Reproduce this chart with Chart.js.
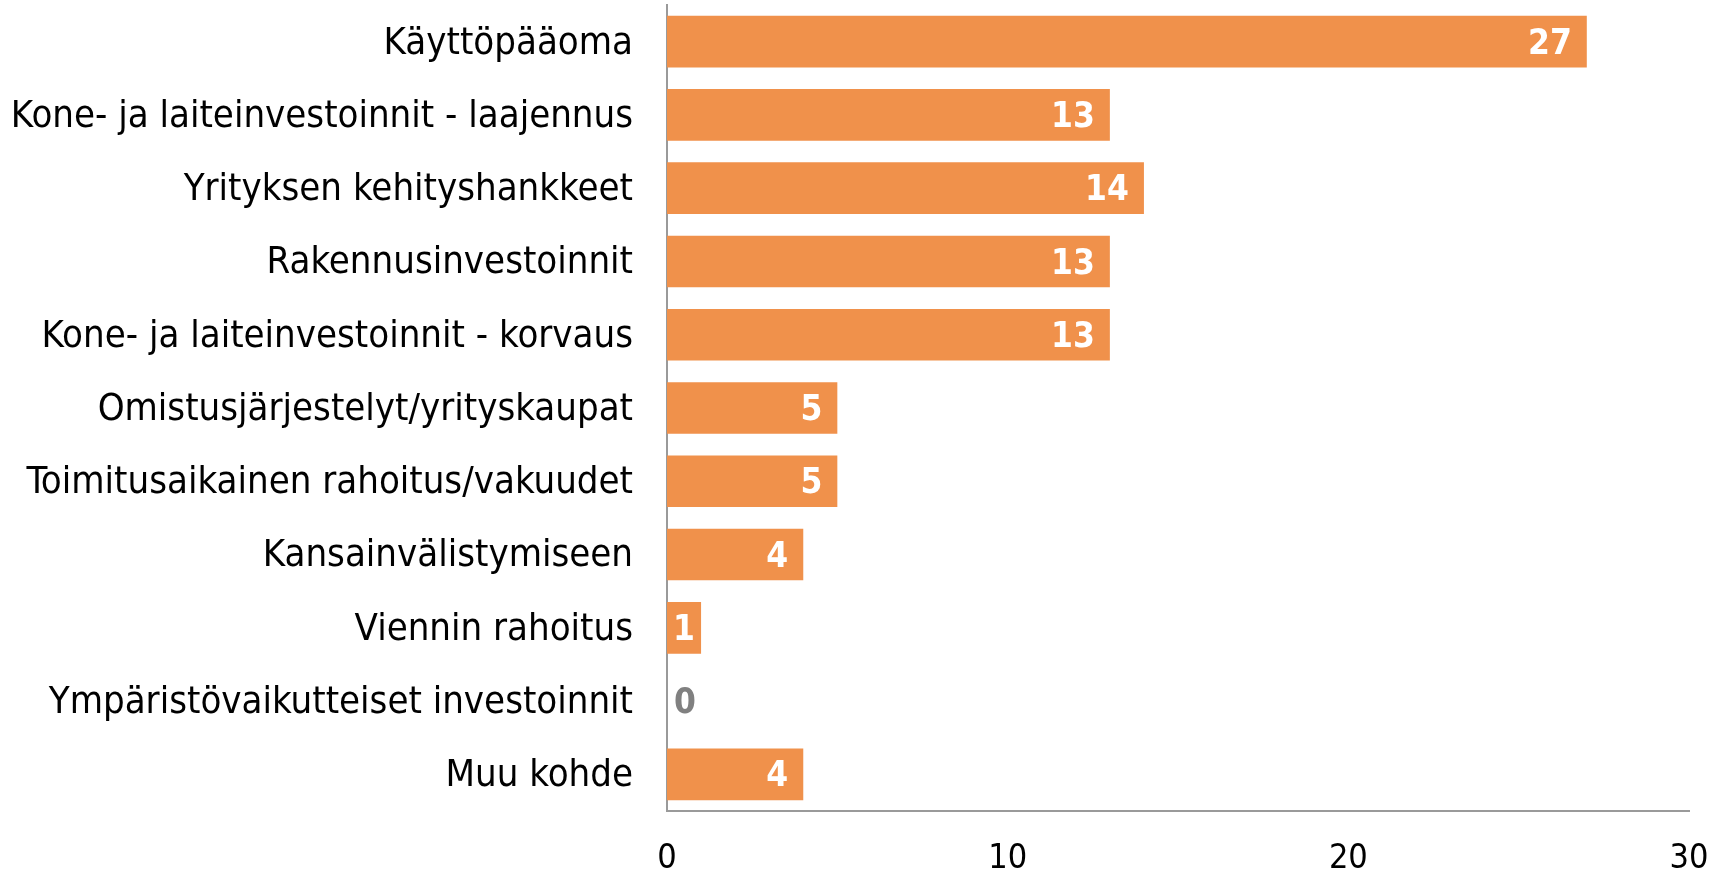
<!DOCTYPE html>
<html>
<head>
<meta charset="utf-8">
<script src="https://cdn.jsdelivr.net/npm/chart.js@4"></script>
<style>
  html, body { margin: 0; padding: 0; background: #fff; }
  #wrap { width: 1723px; height: 872px; }
</style>
</head>
<body>
<div id="wrap"><canvas id="chart" width="1723" height="872"></canvas></div>
<script>
// Chart data
const categories = [
    'Käyttöpääoma',
    'Kone- ja laiteinvestoinnit - laajennus',
    'Yrityksen kehityshankkeet',
    'Rakennusinvestoinnit',
    'Kone- ja laiteinvestoinnit - korvaus',
    'Omistusjärjestelyt/yrityskaupat',
    'Toimitusaikainen rahoitus/vakuudet',
    'Kansainvälistymiseen',
    'Viennin rahoitus',
    'Ympäristövaikutteiset investoinnit',
    'Muu kohde'
];
const values = [27, 13, 14, 13, 13, 5, 5, 4, 1, 0, 4];
const xTicks = [0, 10, 20, 30];

const FONT = '"Liberation Sans Narrow", "DejaVu Sans Condensed", "Liberation Sans", sans-serif';
const BAR_COLOR = '#F0914B';
const AXIS_COLOR = '#9a9a9a';

// Value labels drawn at the bar end (inside), zero drawn grey next to the axis
const valueLabels = {
    id: 'valueLabels',
    afterDatasetsDraw(chart) {
        const ctx = chart.ctx;
        const meta = chart.getDatasetMeta(0);
        ctx.save();
        ctx.font = 'bold 35px ' + FONT;
        ctx.textBaseline = 'middle';
        meta.data.forEach((bar, i) => {
            const v = values[i];
            const txt = String(v);
            const w = ctx.measureText(txt).width;
            const barLen = bar.x - bar.base;
            if (v > 0 && barLen > w + 30) {
                ctx.fillStyle = '#ffffff';
                ctx.textAlign = 'right';
                ctx.fillText(txt, bar.x - 15, bar.y + 3);
            } else if (v > 0) {
                // short bar: centre the label
                ctx.fillStyle = '#ffffff';
                ctx.textAlign = 'center';
                ctx.fillText(txt, (bar.x + bar.base) / 2, bar.y + 3);
            } else {
                ctx.fillStyle = '#808080';
                ctx.textAlign = 'left';
                ctx.fillText(txt, bar.base + 7, bar.y + 3);
            }
        });
        ctx.restore();
    }
};

new Chart(document.getElementById('chart'), {
    type: 'bar',
    data: {
        labels: categories,
        datasets: [{
            data: values,
            backgroundColor: BAR_COLOR,
            borderWidth: 0,
            barPercentage: 0.705,
            categoryPercentage: 1.0
        }]
    },
    options: {
        indexAxis: 'y',
        responsive: false,
        animation: false,
        layout: { padding: { top: 5, right: 34, left: 0, bottom: 0 } },
        plugins: {
            legend: { display: false },
            tooltip: { enabled: false }
        },
        scales: {
            x: {
                min: 0,
                max: 30,
                afterBuildTicks(scale) {
                    scale.ticks = xTicks.map(v => ({ value: v }));
                },
                afterFit(scale) {
                    scale.height = 61;
                    scale.paddingLeft = 0;
                    scale.paddingRight = 0;
                },
                grid: { display: false, drawTicks: false },
                border: { display: true, color: AXIS_COLOR, width: 2 },
                ticks: {
                    color: '#000',
                    padding: 28,
                    font: { family: FONT, size: 34 }
                }
            },
            y: {
                afterFit(scale) {
                    scale.width = 667;
                    scale.paddingTop = 0;
                    scale.paddingBottom = 0;
                },
                grid: { display: false, drawTicks: false },
                border: { display: true, color: AXIS_COLOR, width: 2 },
                ticks: {
                    color: '#000',
                    padding: 34,
                    labelOffset: 2,
                    autoSkip: false,
                    font: { family: FONT, size: 38 }
                }
            }
        }
    },
    plugins: [valueLabels]
});
</script>
</body>
</html>
